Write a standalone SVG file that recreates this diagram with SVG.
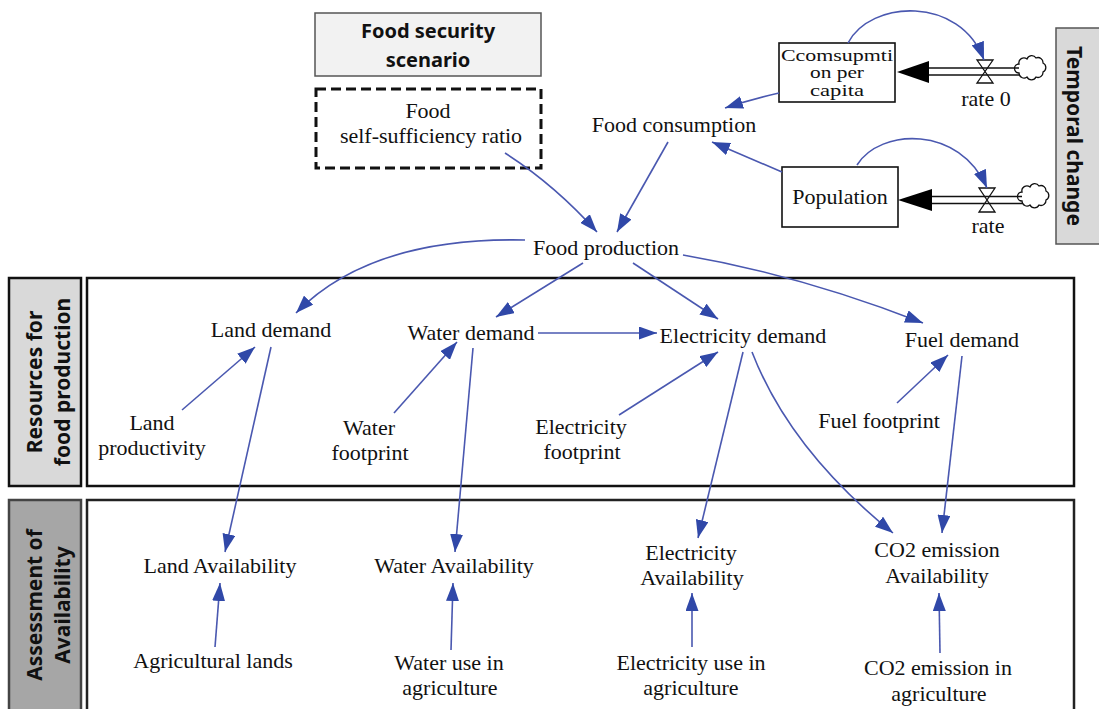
<svg xmlns="http://www.w3.org/2000/svg" width="1099" height="709" viewBox="0 0 1099 709">
<defs>
<style>
.t{font-family:"Liberation Serif","Times New Roman",serif;font-size:22px;fill:#111;text-anchor:middle}
.s{font-family:"Liberation Serif","Times New Roman",serif;font-size:17px;fill:#111;text-anchor:middle}
.b{font-family:"Noto Sans","Open Sans",sans-serif;font-size:20px;font-weight:bold;fill:#111;text-anchor:middle}
.v{font-family:"Noto Sans","Open Sans",sans-serif;font-size:21px;font-weight:bold;fill:#111;text-anchor:middle}
.c{fill:none;stroke:#4a58b0;stroke-width:1.6;marker-end:url(#ah)}
.box{fill:#fff;stroke:#111;stroke-width:1.6}
.pipe{stroke:#111;stroke-width:1.4;fill:none}
.valve{fill:#fff;stroke:#111;stroke-width:1.3}
.cloud{fill:#fff;stroke:#111;stroke-width:1.3}
</style>
<marker id="ah" markerUnits="userSpaceOnUse" markerWidth="18" markerHeight="13" refX="18" refY="6.5" orient="auto" viewBox="0 0 18 13">
<path d="M0,0 L18,6.5 L0,13 Z" fill="#3048a8"/>
</marker>
</defs>
<rect width="1099" height="709" fill="#fff"/>

<g id="frames">
<rect x="9" y="278" width="72" height="208" fill="#d9d9d9" stroke="#111" stroke-width="2.5"/>
<rect x="87" y="278" width="987" height="208" fill="none" stroke="#111" stroke-width="2.5"/>
<rect x="9" y="500" width="72" height="215" fill="#a6a6a6" stroke="#444" stroke-width="2.5"/>
<rect x="87" y="500" width="987" height="215" fill="none" stroke="#222" stroke-width="2.5"/>
<text class="v" transform="translate(34,382) rotate(-90)" dominant-baseline="central">Resources for</text>
<text class="v" transform="translate(62,382) rotate(-90)" dominant-baseline="central">food production</text>
<text class="v" transform="translate(34,605) rotate(-90)" dominant-baseline="central">Assessment of</text>
<text class="v" transform="translate(62,605) rotate(-90)" dominant-baseline="central">Availability</text>
</g>

<g id="food-security-scenario">
<rect x="315" y="13" width="226" height="63" fill="#f2f2f2" stroke="#555" stroke-width="1.5"/>
<text class="b" x="428" y="38">Food  security</text>
<text class="b" x="428" y="67">scenario</text>
</g>

<g id="temporal-change">
<rect x="1056" y="28" width="50" height="216" fill="#d9d9d9" stroke="#555" stroke-width="1.5"/>
<text class="v" transform="translate(1075,136) rotate(90)" dominant-baseline="central">Temporal  change</text>
</g>

<g id="food-self-sufficiency">
<rect x="316" y="89" width="225" height="79" fill="none" stroke="#111" stroke-width="3" stroke-dasharray="10,5"/>
<text class="t" x="428" y="118">Food</text>
<text class="t" x="431" y="143">self-sufficiency ratio</text>
</g>

<g id="consumption-per-capita">
<rect class="box" x="779" y="43" width="116" height="59"/>
<text class="s" x="837" y="61" textLength="112" lengthAdjust="spacingAndGlyphs">Ccomsupmti</text>
<text class="s" x="837" y="78" textLength="54" lengthAdjust="spacingAndGlyphs">on per</text>
<text class="s" x="837" y="96" textLength="54" lengthAdjust="spacingAndGlyphs">capita</text>
</g>

<g id="population">
<rect class="box" x="782" y="167" width="116" height="60"/>
<text class="t" x="840" y="204">Population</text>
</g>

<g id="rate0">
<path class="valve" d="M977,60 L993,60 L977,83 L993,83 Z"/>
<text class="t" x="986" y="106">rate 0</text>
</g>
<g id="rate">
<path class="valve" d="M979,188 L995,188 L979,212 L995,212 Z"/>
<text class="t" x="988" y="233">rate</text>
</g>

<g id="cloud0">
<path class="cloud" d="M1019,64 a5,5 0 0 1 8,-5 a5,5 0 0 1 9,-1 a5,5 0 0 1 7,5 a5,5 0 0 1 0,9 a5,5 0 0 1 -7,5 a5,5 0 0 1 -9,0 a5,5 0 0 1 -8,-4 a4,4 0 0 1 0,-9 Z"/>
</g>
<g id="cloud1">
<path class="cloud" d="M1022,192 a5,5 0 0 1 8,-5 a5,5 0 0 1 9,-1 a5,5 0 0 1 7,5 a5,5 0 0 1 0,9 a5,5 0 0 1 -7,5 a5,5 0 0 1 -9,0 a5,5 0 0 1 -8,-4 a4,4 0 0 1 0,-9 Z"/>
</g>

<g id="food-consumption"><text class="t" x="674" y="132">Food consumption</text></g>
<g id="food-production"><text class="t" x="606" y="255">Food production</text></g>
<g id="land-demand"><text class="t" x="271" y="337">Land demand</text></g>
<g id="water-demand"><text class="t" x="471" y="340">Water demand</text></g>
<g id="electricity-demand"><text class="t" x="743" y="343">Electricity demand</text></g>
<g id="fuel-demand"><text class="t" x="962" y="347">Fuel demand</text></g>
<g id="land-productivity"><text class="t" x="152" y="430">Land</text><text class="t" x="152" y="455">productivity</text></g>
<g id="water-footprint"><text class="t" x="369" y="435">Water</text><text class="t" x="370" y="460">footprint</text></g>
<g id="electricity-footprint"><text class="t" x="581" y="434">Electricity</text><text class="t" x="582" y="459">footprint</text></g>
<g id="fuel-footprint"><text class="t" x="879" y="428">Fuel footprint</text></g>
<g id="land-availability"><text class="t" x="220" y="573">Land Availability</text></g>
<g id="water-availability"><text class="t" x="454" y="573">Water Availability</text></g>
<g id="electricity-availability"><text class="t" x="691" y="560">Electricity</text><text class="t" x="692" y="585">Availability</text></g>
<g id="co2-availability"><text class="t" x="937" y="557">CO2 emission</text><text class="t" x="937" y="583">Availability</text></g>
<g id="agricultural-lands"><text class="t" x="213" y="668">Agricultural lands</text></g>
<g id="water-use"><text class="t" x="449" y="670">Water use in</text><text class="t" x="450" y="695">agriculture</text></g>
<g id="electricity-use"><text class="t" x="691" y="670">Electricity use in</text><text class="t" x="691" y="695">agriculture</text></g>
<g id="co2-use"><text class="t" x="938" y="675">CO2 emission in</text><text class="t" x="939" y="701">agriculture</text></g>

<g id="connectors">
<line class="pipe" x1="925" y1="68" x2="1019" y2="68"/>
<line class="pipe" x1="925" y1="75" x2="1019" y2="75"/>
<path d="M897,72 L929,61 L929,83 Z" fill="#000"/>
<line class="pipe" x1="928" y1="196.5" x2="1022" y2="196.5"/>
<line class="pipe" x1="928" y1="203.5" x2="1022" y2="203.5"/>
<path d="M898,200 L932,189 L932,211 Z" fill="#000"/>
<path class="c" d="M848,43 C870,0 960,-5 984,60"/>
<path class="c" d="M857,165 C880,128 960,125 987,188"/>
<path class="c" d="M779,93 Q752,99 725,108"/>
<path class="c" d="M782,172 L712,142"/>
<path class="c" d="M668,142 L617,232"/>
<path class="c" d="M505,153 Q555,185 597,232"/>
<path class="c" d="M525,240 C430,238 350,258 296,313"/>
<path class="c" d="M583,263 L496,317"/>
<path class="c" d="M633,263 L718,319"/>
<path class="c" d="M683,255 Q800,275 923,323"/>
<path class="c" d="M538,333 L657,333"/>
<path class="c" d="M182,410 L255,347"/>
<path class="c" d="M394,413 L457,342"/>
<path class="c" d="M619,415 L718,352"/>
<path class="c" d="M897,403 L948,355"/>
<path class="c" d="M271,347 L225,552"/>
<path class="c" d="M473,348 L455,552"/>
<path class="c" d="M743,352 L698,538"/>
<path class="c" d="M752,352 Q790,450 893,533"/>
<path class="c" d="M962,356 L942,533"/>
<path class="c" d="M215,647 L220,583"/>
<path class="c" d="M451,650 L453,583"/>
<path class="c" d="M692,647 L692,593"/>
<path class="c" d="M940,653 L939,593"/>
</g>
</svg>
